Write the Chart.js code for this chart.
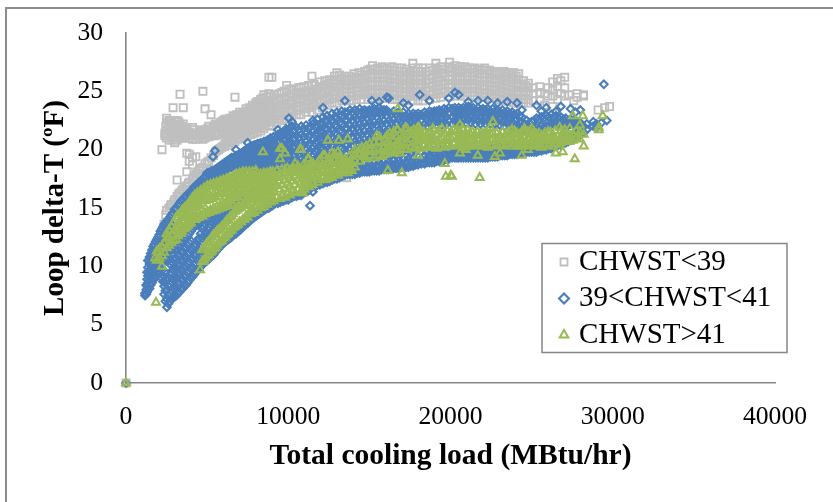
<!DOCTYPE html>
<html><head><meta charset="utf-8">
<script src="https://cdn.jsdelivr.net/npm/chart.js@4"></script>
<style>
html,body{margin:0;padding:0;background:#fff;overflow:hidden}
#wrap{position:absolute;left:0;top:0;width:833px;height:502px}
#frame{position:absolute;left:5px;top:7px;width:828px;height:495px;border-top:2px solid #8c8c8c;border-left:2px solid #8c8c8c;box-sizing:border-box}
canvas{position:absolute;left:0;top:0}
</style></head><body>
<div id="wrap"><div id="frame"></div><canvas id="c" width="833" height="502"></canvas></div>
<script>
const seriesNames = ["CHWST<39", "39<CHWST<41", "CHWST>41"];
const xTickValues = [0, 10000, 20000, 30000, 40000];
const yTickValues = [0, 5, 10, 15, 20, 25, 30];
const xTitle = "Total cooling load (MBtu/hr)";
const yTitle = "Loop delta-T (ºF)";

// Each row: load, then the delta-T values read at that load.
const lowColumns = [
[0,0],[2220,20],[2400,21.2,21.4],[2350,13.6],[2500,14.8,21,21.6,22.3,22.7],[2650,15,20.8,21.5,22.2,22.5],[2710,22.5],[2800,15.3,21,21.6,22.3],[2900,23.6],
[3000,15.7,20.6,21.2,21.9,22.4],[3150,16,17.4,20.8,21.4,22,22.5],[3330,16.3,24.75,21,21.6,22.2],[3530,16.6,23.6,21.1,21.7,22.2],[3750,16.9,18.1,19.7,21.2,21.8],
[3900,17.2,19,19.6,21,21.5],[4100,17.5,18.7,19.3,20.9,21.4,21.9],[4300,17.9,19.4,20.9,21.3],[4500,18.2,21,21.5],[4740,18.5,20.9,21.3,21.7,25],[4870,18.8,21,21.5,23.5],
[5100,19,21.1,21.6,22],[5240,19.3,21.2,21.7,23],[5500,19.8,21.2,21.8,22.2],[5700,20,21.3,22],[5900,20.2,21.5,22.1,22.4],[6100,20.3,21,21.6,22.3,22.6],[6300,20.4,21.1,21.8,22.4],
[6500,20.6,21.3,22,22.5],[6715,20.7,21.4,22.1,22.8,24.5],[6900,20.9,21.6,22.3,22.9],[7100,21,21.7,22.4,23],[7300,21.1,21.8,22.5,23.1],[7500,21.2,21.9,22.6,23.3],[7700,21.3,22,22.7,23.4],
[7900,21.4,22.1,22.8,23.6],[8100,21.5,22.2,22.9,23.7,24.1],[8300,21.6,22.3,23,23.8,24.3],[8500,21.8,22.5,23.2,24,24.7],[8810,22,22.7,23.4,24.1,24.8,26.2],[8990,26.2,22.1,22.8,23.5,24.2],
[9300,22.3,23,23.7,24.4],[9610,22.5,23.2,23.9,24.9,24.4],[9900,22.6,23.3,24,24.6,25.5],[10200,22.8,23.5,24.2,24.8,25.1],[10500,23,23.7,24.4,24.9],[10780,23,23.7,24.4,24.9,25.3],
[11100,23.2,23.9,24.6,25],[11460,23.2,23.9,24.6,25.5,25,26.3],[11800,23.4,24.1,24.8,25.2],[12100,23.6,24.3,25,25.4],[12400,23.8,24.5,25.2,25.6],[12700,24,24.7,25.4,25.9],[13000,24,24.7,25.4,26,26.6],
[13300,24.2,24.9,25.6,26.1],[13600,17.6,24.2,24.9,25.6,26],[13900,24.2,24.9,25.6,26.1],[14200,24.3,25,25.7,26.2],[14500,24.3,25,25.7,26.4],[14900,24.3,25,25.7,26.4,26.8],[15200,24.4,25.1,25.8,26.5,27.2],
[15500,24.4,25.1,25.8,26.5,27],[15800,24.4,25.1,25.8,26.5,27.1],[16100,24.4,25.1,25.8,26.5,27],[16400,24.3,25,25.7,26.4,27.1],[16700,24.3,25,25.7,26.4,27],[17000,24.2,24.9,25.6,26.3,27],
[17300,24.2,24.9,25.6,26.3,26.9],[17680,24.2,24.9,25.6,26.3,27,27.4],[18000,24.2,24.9,25.6,26.3,27],[18300,24.2,24.9,25.6,26.3,27],[18700,24.3,25,25.7,26.4,27],[19100,24.4,25.1,25.8,26.5,27,27.4],
[19400,24.5,25.2,25.9,26.6,27.1],[19950,24.6,25.3,26,26.7,27.1,27.5],[20300,24.6,25.3,26,26.7,27.2],[20600,24.6,25.3,26,26.7,27.1],[20900,24.6,25.3,26,26.6,27.1],[21200,24.6,25.3,26,26.6,27],
[21500,24.6,25.3,26,26.6,27],[21800,24.5,25.2,25.9,26.5,26.9],[22100,24.5,25.2,25.9,26.5,27],[22400,24.4,25.1,25.8,26.5,26.8],[22700,24.4,25.1,25.8,26.4,26.7],[23000,24.3,25,25.7,26.4,26.7],
[23300,24.2,24.9,25.6,26.3,26.7],[23600,24.1,24.8,25.5,26.2,26.6],[23900,24,24.7,25.4,26.1,26.6],[24200,24,24.7,25.4,26,26.5],[24500,24,24.7,25.3,25.9],[24800,24,24.7,25.3,25.7],[25100,24.2,24.8,25.3],
[25500,24.2,24.9,25.4],[25800,23.8,24.8],[26000,24.6,25.3],[26300,23.7,24.6,25.1,25.8],[26600,24.3,25.4,26.1],[27040,26.2,25.3,24.6],[26800,24.8,25.9],[27300,24.7],[27600,24.2],[27800,24.8,24.5],
[28200,24.6,24.7],[29100,23.4],[29500,23.6],[29800,23.7]
];
const lowExtra = [
[2450,14.4,21.3,22],[2750,15.2,21.2,21.9],[2950,15.5,21,21.7],[3250,16.2,21.3,21.9,22.4],[3450,16.5,21,21.5,22],[3650,16.8,21,21.5],[3850,17.1,21.3],[4200,17.7,21.2,21.7],[4400,18,21.2],[4600,18.4,21.2,21.6],[5000,18.9,21.3,21.8],[5400,19.5,21.4,22],[5600,19.9,21.5,22.1],[5800,20.1,21.8,22.3],[6000,20.3,21.3,21.9,22.5],[6200,20.7,21.4,22.1,22.6],[6400,20.7,21.4,22.2,22.7],[6600,20.9,21.7,22.4,22.9],[6800,21.2,21.9,22.6,23],[7000,21.3,22,22.7,23.2],[7200,21.4,22.1,22.8,23.2],[7400,21.5,22.2,22.9,23.5],[7600,21.6,22.3,23,23.6],[7800,21.7,22.4,23.2,23.8],[8000,21.8,22.5,23.3,24],[8200,21.9,22.6,23.4,24.1],[8400,22.1,22.8,23.6,24.4],[8650,22.3,23,23.8,24.5],[8900,22.4,23.1,23.8,24.6],[9150,22.6,23.3,24,24.7],[9450,22.7,23.5,24.2,24.8],[9750,22.9,23.6,24.3,25],[10050,23.2,23.9,24.5,25.2],[10350,23.3,24,24.6,25.2],[10650,23.4,24.1,24.7,25.3],[10950,23.5,24.2,24.8,25.4],[11250,23.6,24.3,25,25.5],[11600,23.8,24.4,25.1,25.6],[11950,24,24.7,25.3,25.8],[12250,24.2,24.9,25.5,25.9],[12550,24.3,25,25.7,26],[12850,24.4,25,25.7,26.3],[13150,24.5,25.2,25.9,26.4],[13450,24.6,25.2,25.9,26.3],[13750,24.6,25.2,25.9,26.3],[14050,24.6,25.3,26,26.5],[14350,24.7,25.3,26,26.6],[14700,24.7,25.4,26.1,26.7],[15050,24.8,25.5,26.2,26.9],[15350,24.8,25.5,26.2,26.9],[15650,24.8,25.5,26.2,26.8],[15950,24.8,25.5,26.2,26.9],[16250,24.7,25.4,26.1,26.8],[16550,24.7,25.4,26.1,26.8],[16850,24.6,25.3,26,26.7],[17150,24.6,25.3,26,26.7],[17500,24.6,25.3,26,26.7],[17850,24.6,25.3,26,26.7],[18150,24.6,25.3,26,26.7],[18500,24.6,25.3,26,26.7],[18900,24.7,25.4,26.1,26.8],[19250,24.8,25.5,26.2,26.9],[19650,24.9,25.6,26.3,26.9],[20100,24.9,25.6,26.3,27],[20450,24.9,25.6,26.3,26.9],[20750,24.9,25.6,26.3,26.9],[21050,24.9,25.6,26.3,26.9],[21350,24.9,25.6,26.3,26.9],[21650,24.9,25.6,26.2,26.8],[21950,24.8,25.5,26.2,26.8],[22250,24.8,25.5,26.2,26.8],[22550,24.7,25.4,26.1,26.6],[22850,24.7,25.4,26.1,26.6],[23150,24.6,25.3,26,26.5],[23450,24.5,25.2,25.9,26.5],[23750,24.4,25.1,25.8,26.4],[24050,24.3,25,25.7,26.3],[24350,24.3,25,25.6],[24650,24.3,25,25.5]
];

const midColumns = [
[0,0],[1170,7.5,7.7],[1250,7.6,8,8.4],[1300,7.8,8.3,8.9,9.5],[1450,8.1,8.8,9.5,10.2,10.8],[1600,8.6,9.3,10,10.7,11.4],[1750,9,9.7,10.4,11.1,11.9],[1900,9.4,10.1,10.8,11.5,12.3],[2050,9.9,10.6,11.3,12,12.7],
[2200,9,10.2,11,12.3,13.2],[2350,7.6,8.3,9.1,10.5,11.3,12.1,13,13.6],[2520,6.5,7.2,8,8.8,10.9,12,13,13.9],[2700,7,7.7,8.5,9.3,10.2,11.3,12.5,13.4,14.2],[2900,7.3,8.1,8.9,9.7,10.6,11.6,12.5,13.5,14.6],
[3100,7.5,8.3,9.1,9.9,10.7,11.5,12.3,15],[3300,7.8,8.6,9.4,10.2,11,11.8,12.6,15.4],[3500,8.1,8.9,9.7,10.5,11.3,12.1,12.9,15.7],[3700,8.4,9.2,10,10.8,11.6,12.4,13.2,16],[3900,8.8,9.6,10.4,11.2,12,12.8,13.6,16.3],
[4100,9.1,9.9,10.7,11.5,13.2,16,16.6],[4300,9.5,10.3,11.1,11.9,13.5,16.3,16.9],[4500,9.8,10.6,11.4,12.4,13.8,16.6,17.2],[4700,10.1,11,12.4,13.2,14,16.8,17.4],[4900,10.4,11.3,12.8,13.6,17,17.7],
[5000,18],[5100,10.6,12.6,13.4,14.2,17.2,18],[5300,10.9,13,13.8,14.4,17.4,18.2],[5360,19.4],[5480,19.9],[5500,11.2,13.2,14,14.5,17.7,18.3],[5700,11.5,13.6,14.4,17.9,18.5],[5900,11.8,13.8,14.5,18.1,18.7],[6100,12.1,14.2,14.8,18.2,18.9],
[6300,12.3,14.5,15,18.4,19.1],[6500,12.5,14.8,18.5,19.3],[6780,12.8,15.1,18.7,19.4,20],[6900,13,15.3,18.8,19.5],[7100,13.2,15.6,18.3,19,19.7],[7300,13.5,15.8,18.4,19.2,19.9],[7500,13.7,18.6,19.4,20.1,20.6],[7700,14,18.8,19.6,20.3],
[7900,14.2,19,19.7,20.4],[8100,14.4,18.4,19.1,19.8,20.5],[8300,14.6,18.5,19.2,19.9,20.6],[8500,14.8,18.6,19.3,20,20.7],[8700,15,18.7,19.4,20.1,20.8],[8900,15.1,18.9,19.6,20.3,21],[9100,15.3,19,19.7,20.4,21.1],
[9360,15.4,18.5,19.2,19.9,20.6,21.3,21.7],[9500,15.5,18.6,19.3,20,20.7,21.4],[9700,15.6,18.7,19.4,20.1,20.8,21.5],[9860,15.7,18.8,19.5,20.2,20.9,21.6,21.8],[10040,15.8,19,19.7,20.4,21.1,21.8,22.7],[10230,15.9,18.5,19.2,19.9,20.6,21.3,22,22.4],
[10500,16,18.4,19.1,19.8,20.5,21.2,21.9],[10800,16.1,18.5,19.2,19.9,20.6,21.3,22],[11100,16.4,18.6,19.3,20,20.7,21.4,22.1],[11340,15.2,16.6,18.5,19.2,19.9,20.6,21.3,22],[11520,16.4,16.9,18.7,19.4,20.1,20.8,21.5,22.2,22.5],
[11800,17,18.6,19.3,20,20.7,21.4,22.1,22.6],[12140,17.1,18.7,19.4,20.1,20.8,21.5,22.2,22.8,23.6],[12400,17.2,18.9,19.6,20.3,21,21.7,22.4,22.9],[12700,17.4,19,19.7,20.4,21.1,21.8,22.5,23.1],[13000,17.5,19.2,19.9,20.6,21.3,22,22.7,23.2],
[13300,17.7,19.4,20.1,20.8,21.5,22.2,22.9,23.3],[13490,17.8,19,19.7,20.4,21.1,21.8,22.5,23.2,24.2],[13800,17.9,18.6,19.3,20,20.7,21.4,22.1,22.8,23.4],[14100,17.9,18.6,19.3,20,20.7,21.4,22.1,22.8,23.4],[14400,18,18.7,19.4,20.1,20.8,21.5,22.2,22.9,23.5],
[14700,18.1,18.8,19.5,20.2,20.9,21.6,22.3,23,23.4],[15000,18.1,18.8,19.5,20.2,20.9,21.6,22.3,23,23.4],[15150,24.2],[15300,18.2,18.9,19.6,20.3,21,21.7,22.4,23.1,23.5],[15600,18.2,18.9,19.6,20.3,21,21.7,22.4,23.1,23.6,24.1],[15900,18.3,19,19.7,20.4,21.1,21.8,22.5,23.2,23.4],
[16080,24.5],[16200,18.3,19,19.7,20.4,21.1,21.8,22.5,23.2,24.4],[16500,18.4,19.1,19.8,20.5,21.2,21.9,22.6,23.3],[16800,18.4,19.1,19.8,20.5,21.2,21.9,22.6,23.2],[17100,18.5,19.2,19.9,20.6,21.3,22,22.7,23.2,24],[17400,18.5,19.2,19.9,20.6,21.3,22,22.6,23.1,23.8],
[17700,18.6,19.3,20,20.7,21.4,22.1,22.7,23.1],[18000,18.7,19.4,20.1,20.8,21.5,22.2,22.8,23.1],[18100,24.7],[18400,18.8,19.5,22.2,22.8,23.2],[18700,18.9,19.5,20.2,21,22.3,22.9,23.3,24.2],[19000,18.9,19.6,22.4,23,23.3],[19300,19,19.6,22.4,23,23.4],
[19600,19.1,19.7,22.4,23,23.5],[19900,19.2,19.8,22.5,23.1,23.6,24.4],[20270,19.3,19.9,22.5,23.1,23.6,24.9],[20500,24.7,19.3,19.9,22.5,23.1,23.6],[20800,19.3,19.9,22.6,23.2,23.6],[21100,19.3,19.9,22.6,23.2,23.7,24.1],[21400,19.3,19.9,22.6,23.2,23.6],
[21700,19.3,19.9,22.5,23.1,23.6,24.2],[22000,19.3,19.9,22.5,23.1,23.5],[22300,19.3,19.9,22.5,23.1,23.5,24.2],[22600,19.4,20,22.5,23.1,23.5],[22900,19.4,20,22.4,23,23.4,24],[23200,19.5,20,22.4,23,23.4],[23500,19.5,20.1,22.3,22.9,23.3,24.1],
[23800,19.6,20.1,22.3,22.9,23.2],[24100,19.6,20.2,22,22.6,23.1,24],[24400,19.7,20.2,21.8,22.4,22.8,23.4],[24700,19.8,20.3,21.8,22.5],[25000,19.8,20.3,21.9,22.4],[25300,19.8,20.4,21.9,22.7,23.8],[25600,19.9,20.4,22,22.8,23.3],[25900,20,20.5,22,22.9,23.6],
[26200,20.1,20.5,22.2,23],[26500,20.3,20.6,22.3,22.9,23.3],[26800,20.4,20.8,22.4,22.8,23.7],[27100,20.6,21,22.2,22.7],[27400,20.8,21.2,22.2,22.6,23.5],[27700,21,21.4,22.3,22.4,23.2],[28000,21.3,21.7,22.3,23.4],[28400,21.7,22.2],[28800,22,22.4],[29000,21.9,22.2],[29300,22.3],[29450,25.6],[29630,22.5]
];
const midExtra = [
[1350,8,8.6,9.2,9.9,10.5],[1520,8.4,9.1,9.8,10.5,11.1],[1680,8.8,9.5,10.2,10.9,11.7],[1820,9.2,9.9,10.6,11.3,12.1],[1980,9.6,10.3,11,11.7,12.5],[2120,10,10.7,11.5,12.1,13],[2280,8.7,9.7,10.9,11.7,12.7,13.4],[2430,7,7.9,8.6,9.5,11.1,11.8,12.6,13.7],[2610,6.8,7.5,8.3,9,10.5,11.7,12.8,14],[2800,7.2,7.9,8.7,9.5,10.4,11.4,12.2,13.1,14.4],[3000,7.4,8.2,9,9.8,10.6,11.4,12.2,14.9],[3200,7.7,8.5,9.3,10.1,10.9,11.7,12.5,15.2],[3400,8,8.8,9.6,10.4,11.2,12,12.8,15.6],[3600,8.3,9.1,9.9,10.7,11.5,12.3,13.1,15.9],[3800,8.6,9.4,10.2,11,11.8,12.6,13.4,16.2],[4000,9,9.8,10.6,11.4,12.2,13,15.8,16.4],[4200,9.3,10.1,10.9,11.7,13.4,16.2,16.8],[4400,9.7,10.5,11.3,12.2,13.6,16.5,17],[4600,10,10.8,11.6,12.8,16.7,17.3],[4800,10.3,11.2,12.6,13.4,16.9,17.6],[5000,10.5,12.4,13.2,14,17.1,17.9],[5200,10.8,12.8,13.6,14.3,17.3,18.1],[5400,11,13.1,13.9,14.5,17.6,18.2],[5600,11.4,13.4,14.2,17.8,18.4],[5800,11.7,13.7,14.4,18,18.6],[6000,12,14,14.6,18.1,18.8],[6200,12.2,14.4,14.9,18.3,19],[6400,12.4,14.6,18.5,19.2],[6600,12.7,15,18.6,19.3],[6800,12.9,15.2,18.8,19.5],[7000,13.1,15.5,18.2,18.9,19.6],[7200,13.4,15.7,18.4,19.1,19.8],[7400,13.6,18.5,19.3,20],[7600,13.9,18.7,19.5,20.2],[7800,14.1,18.9,19.6,20.3],[8000,14.3,18.3,19,19.7,20.4],[8200,14.5,18.8,19.5,20.5],
[8400,14.7,18.3,18.9,19.6,20.3],[8600,14.9,18.4,19,19.7,20.4],[8800,15,18.5,19.2,19.9,20.6],[9000,15.2,18.6,19.3,20,20.7],[9200,15.4,18.8,19.5,20.2,20.9],[9600,15.6,18.3,19,19.7,20.4,21.1],[10000,15.7,18.5,19.2,19.9,20.6,21.3],[10350,16,18.8,19.5,20.2,20.9,21.6],[10650,16.1,18.9,19.6,20.3,21,21.7],[10950,16.3,19,19.7,20.4,21.1,21.8],[11250,16.5,19,19.7,20.4,21.1,21.8],[11650,16.8,19.2,19.9,20.6,21.3,22],[11950,17,18.7,19.4,20.1,20.8,21.5,22.2],[12250,17.2,19,19.7,20.4,21.1,21.8,22.5],[12550,17.3,19.2,19.9,20.6,21.3,22,22.7],[12850,17.5,19.3,20,20.7,21.4,22.1,22.8],[13150,17.6,18.8,19.5,20.2,20.9,21.6,22.3,23],[13650,17.9,18.3,19,19.7,20.4,21.1,21.8,22.5,23.2],[13950,17.9,18.3,19,19.7,20.4,21.1,21.8,22.5,23.2],[14250,18,18.4,19.1,19.8,20.5,21.2,21.9,22.6,23.3],[14550,18.1,18.5,19.2,19.9,20.6,21.3,22,22.7,23.3],[14850,18.1,18.5,19.2,19.9,20.6,21.3,22,22.7,23.3],[15150,18.2,18.6,19.3,20,20.7,21.4,22.1,22.8,23.4],[15450,18.2,18.6,19.3,20,20.7,21.4,22.1,22.8,23.4],[15750,18.3,18.7,19.4,20.1,20.8,21.5,22.2,22.9,23.4],[16050,18.3,18.7,19.4,20.1,20.8,21.5,22.2,22.9,23.4],[16350,18.4,18.8,19.5,20.2,20.9,21.6,22.3,23],[16650,18.4,18.8,19.5,20.2,20.9,21.6,22.3,23],[16950,18.5,18.9,19.6,20.3,21,21.7,22.4,23],[17250,18.5,18.9,19.6,20.3,21,21.7,22.4,22.9],[17550,18.6,19,19.7,20.4,21.1,21.8,22.4,22.9],[17850,18.7,19.1,19.8,20.5,21.7,22.5,23],[18200,18.8,19.2,19.8,21.9,22.5,23],[18550,18.9,19.2,19.8,22,22.6,23.1],[18850,18.9,19.3,19.9,22.1,22.7,23.2],[19150,19,19.4,20,22.1,22.7,23.3],[19450,19.1,19.4,20,22.1,22.7,23.3],[19750,19.2,19.5,20,22.2,22.8,23.4],[20100,19.3,19.6,20.1,22.2,22.8,23.5],[20400,19.3,19.6,20.1,22.2,22.8,23.4],[20650,19.3,19.6,20.1,22.3,22.9,23.5],[20950,19.3,19.6,20.1,22.3,22.9,23.5],[21250,19.3,19.6,20.1,22.3,22.9,23.5],[21550,19.3,19.6,20.1,22.2,22.8,23.4],[21850,19.3,19.6,20.1,22.2,22.8,23.4],[22150,19.3,19.6,20.1,22.2,22.8,23.4],[22450,19.4,19.7,20.2,22.2,22.8,23.3],[22750,19.4,19.7,20.2,22.2,22.8,23.3],[23050,19.5,19.8,20.2,22.1,22.7,23.2],[23350,19.5,19.8,20.2,22,22.6,23.2],[23650,19.6,19.9,20.3,22,22.6,23.1],[23950,19.6,19.9,20.3,21.9,22.5,23],[24250,19.7,20,20.3,21.9,22.3,22.9],[24550,19.8,20,21.7,22.2],[24850,19.8,20.1,21.8,22.3],[25150,19.8,20.1,21.8,22.5],[25450,19.9,20.2,21.8,22.6],[25750,20,20.3,21.9,22.7],[26050,20.1,20.4,22.1,22.8],[26350,20.2,20.5,22.2,22.8],[26650,20.4,20.7,22.2,22.7],[26950,20.5,20.9,22.1,22.6],[27250,20.7,21.1,22.1,22.5],[27550,20.9,21.3,22.2,22.5],[27850,21.1,21.5,22.2,22.4],[28200,21.5,22]
];

const highColumns = [
[0,0],[1790,10.7],[1850,6.9],[1900,10.5,11.3],[2220,10,10.9,11.7],[2500,11.6,12.4,12.8],[2800,12,12.7,13.4],[3100,12.3,13.2,14.2],[3250,12.9,13.8],[3400,12.8,13.6,14.6],[3550,13.2,14.2,14.9],[3700,13.4,14.4,15.1],
[3850,13.6,14.5,15.3],[4000,13.7,14.6,15.5],[4150,14,14.8,15.8],[4300,14.1,15,16],[4500,14.2,15.2,16.2],[4560,9.7],[4700,10.4,11.4,14.3,15.4,16.4],[4900,10.7,11.8,14.5,15.6,16.6],[5100,11,12.1,14.6,15.7,16.8],
[5300,11.3,12.5,14.7,15.8,16.9],[5500,11.6,12.8,14.8,15.9,17],[5700,12,13.1,14.9,16,17],[5900,12.2,13.4,15,16.2,17.2],[6100,12.5,13.7,15.1,16.3,17.3],[6300,12.8,14,15.2,16.4,17.5],[6500,13.1,14.3,15.4,16.6,17.5],
[6700,13.4,14.7,15.6,16.7,17.6],[6900,13.6,14.9,15.9,16.9,17.8],[7100,13.8,15,16,17,17.9],[7300,14,15.2,16.2,17.1,17.9],[7500,14.2,15.3,16.3,17.2,17.9],[7700,14.5,15.5,16.4,17.3,17.9],[7900,14.6,15.7,16.5,17.3,17.8],
[8100,14.8,15.8,16.6,17.4,18],[8300,15,15.9,16.7,17.4,17.9],[8500,15.1,16,16.8,17.5,18],[8700,15.3,16.1,16.9,17.6,18],[8900,15.5,16.3,17,17.7,18.1],[9100,15.6,16.4,17.1,17.7,18],[9490,15.8,16.6,17.3,17.9,19.2,20.1],[9800,15.9,16.7,17.4,18,18.3,19.7],
[10100,16.1,16.9,17.6,18.2],[10410,16.3,17,17.7,18.3,18.8],[10780,16.4,17.2,17.8,18.3,20],[10900,16.3],[11000,16.6,17.3,17.9,18.4],[11270,16.8,17.5,18.1,18.6,19.2],[11500,17,17.6,18.2,18.6],[11800,17.2,17.8,18.3,18.8],[12260,17.4,18,18.5,19.5],
[12440,17.5,18.1,18.7,20.8],[12690,17.6,18.2,18.8,19.7],[13060,17.8,18.4,19,19.8],[13120,20.8],[13350,18,18.5,19],[13670,18,18.5,20.9],[13920,18.2,18.8],[14290,19.7],[14540,20.2],[14720,19.4],[15030,20],[15460,21.2],[15770,19.4],[15830,20.2],[16140,18.2],
[16260,19.8,20.4,21.4],[16750,19.9,20.7,21.7,23.5],[16880,19.7,20.3],[17000,18,21],[17190,20.4,21.1,21.8],[17570,20.2,20.9,21.5],[17990,19.5,20.5,21.2,21.9],[18200,20.1,20.8,21.4],[18540,20.2,20.8,21.3],[18910,20.3,21,21.8],[19150,20.1,20.7,21.3],
[19470,20.3,21,21.8],[19650,18.8,20.2,20.8,21.4],[19710,17.7],[20020,17.8,20.3,21,21.5],[20080,17.7],[20390,20.3,20.9,21.7],[20580,19.7,20.4,21,21.6,22.1],[20940,20,20.4,20.9,21.4],[21200,20.3,20.8,21.4],[21500,20.3,20.8,21.3],[21680,19.5],[21800,17.6,20.4,20.9,21.3],
[22100,20.3,20.9,21.4],[22300,20.2,20.8,21.3],[22610,20.4,20.9,21.4,22.4],[22730,19.4],[23040,19.7,20.4,21,21.2],[23400,20.3,20.8,21.3],[23780,20.3,20.8,21.3,21.7],[24100,20.3,20.9,21.4],[24390,19.5,20.3,20.8,21.5],[24760,20,20.4,20.9,21.5],
[25010,20.3,20.8,21.3,21.8],[25300,20.3,20.8,21.3],[25600,20.2,20.7,21.2],[26000,20.3,20.8,21.5],[26300,20.3,20.8,21.3],[26490,19.7],[26730,20.4,20.9,21.9],[26920,19.8,20.7,21.2],[27200,20.7,21.2],[27540,20.8,21.3,22.9],[27660,19.2],[27970,20.9,21.5,22.1],[28150,22.9],[28210,20.3,21.3],[29140,21.7,21.9],[29380,22.9]
];
const highExtra = [
[2050,10.7,11.5],[2350,11.2,12],[2650,11.8,12.5,13.1],[2950,12.2,13,13.8],[3200,12.6,13.5,14.4],[3450,13,13.9,14.8],[3620,13.3,14.2,15],[3780,13.5,14.3,15.2],[3950,13.8,14.8,15.6],[4100,14,15,15.9],[4250,14,15.2,16.1],[4400,14.2,15.4,16.3],[4600,14.4,15.6,16.5],[4800,10.5,11.6,14.6,15.8,16.7],[5000,10.9,12,14.7,15.9,16.9],[5200,11.2,12.3,14.8,16,17],[5400,11.5,12.7,15,16.2,17.1],[5600,11.8,13,15.1,16.3,17.2],[5800,12.1,13.2,15.2,16.4,17.3],[6000,12.4,13.5,15.4,16.6,17.4],[6200,12.7,13.9,15.6,16.7,17.5],[6400,13,14.2,15.8,16.9,17.6],[6600,13.3,14.5,16,17,17.7],[6800,13.5,14.8,16.2,17.2,17.9],[7000,13.8,15.1,16.4,17.3,18],[7200,14,15.3,16.5,17.4,18.1],[7400,14.3,15.5,16.6,17.5,18.1],[7600,14.6,15.7,16.7,17.6,18.1],[7800,14.8,15.9,16.8,17.6,18.1],[8000,15,16,16.9,17.7,18.2],[8200,15.1,16.1,17,17.8],[8440,15.3,16.3,17.1,17.8,19.8],[8650,15.5,16.4,17.2,17.9],[8850,15.6,16.6,17.3,18],[9050,15.8,16.7,17.4,18.1],[9300,15.9,16.9,17.6,18.2],[9610,16,17,17.7,18.3,20.1],[9950,16.2,17.1,17.8,18.4],[10290,16.4,17.3,18,18.4],[10600,16.6,17.5,18.1,18.6],[10720,20],[10950,16.8,17.6,18.2,18.7],[11210,17,17.7,18.3,19.2],[11520,17.2,17.9,18.2,18.8],[11900,17.4,18,18.6,19],[12140,17.6,18.2,18.7,19.5],[12500,17.7,18.3,18.9,19.2],[12850,17.9,18.5,19,19.6],[13180,18.1,18.6,19.2,19.5],[13500,18.2,18.7,19.2],[13750,18.3,18.9,19.4],[13920,18.8],[14100,18.5,19,19.6,20],[14410,19,19.6,20],[14800,19.2,19.8,20.3],[15030,19.5,20.5],[15300,19.3,19.9,20.6],[15600,19.5,20.1,20.7,21.1],[15950,19.6,20.3,20.9],[16100,19.8,20.6,21.2],[16500,19.7,20.2,20.8,21.5],[16690,20,20.5,21.1,21.7],[17310,20,20.6,21.3,21.8],[17750,20.1,20.7,21.3,21.7],[18050,20.3,20.9,21.5,21.9],[18350,20.3,20.9,21.5],[18700,20.2,20.8,21.5],[19000,20.3,20.9,21.6],[19300,20.3,20.9,21.6],[19800,20.3,20.9,21.6],[20200,20.5,21.1,21.7],[20750,20.2,20.7,21.2,21.8],[21050,20.3,20.7,21.2,21.7],[21350,20.4,20.9,21.5],[21650,20.4,20.9,21.5],[21950,20.3,20.8,21.4],[22200,20.4,21,21.5],[22450,20.4,20.9,21.4,21.9],[22850,20.3,20.9,21.4],[23200,20.4,20.9,21.5],[23550,20.5,21,21.5],[23950,20.5,21,21.6],[24250,20.3,20.8,21.3],[24550,20.5,21,21.5,21.8],[24900,20.5,21,21.6],[25150,20.4,20.9,21.5],[25450,20.4,20.9,21.4],[25800,20.4,20.9,21.4],[26150,20.5,21,21.5],[26450,20.5,21,21.6],[26800,20.6,21.1,21.6],[27050,20.8,21.3,21.7],[27350,20.7,21.2,21.8],[27750,21,21.6]
];

const toPoints = cols => cols.flatMap(([x, ...ys]) => ys.map(y => ({x, y})));
const commonSet = {showLine:false, clip:false, pointBackgroundColor:'transparent', backgroundColor:'transparent'};

const legendBox = {
  id:'legendBox',
  afterLayout(chart){
    const l = chart.legend;
    l.left = 556; l.top = 240; l.right = 787; l.bottom = 400; l.width = 231; l.height = 160;
  },
  afterDraw(chart){
    const c = chart.ctx; c.save(); c.strokeStyle = '#868686'; c.lineWidth = 1.5;
    c.strokeRect(542, 243.5, 245, 109); c.restore();
  }
};

new Chart(document.getElementById('c'), {
  type:'scatter',
  plugins:[legendBox],
  data:{datasets:[
    {...commonSet, order:3, label:seriesNames[0], data:toPoints(lowColumns.concat(lowExtra)), pointStyle:'rect', pointRadius:5.1, pointBorderWidth:1.8, pointBorderColor:'#bfbfbf', borderColor:'#bfbfbf'},
    {...commonSet, order:2, label:seriesNames[1], data:toPoints(midColumns.concat(midExtra)), pointStyle:'rectRot', pointRadius:3.8, pointBorderWidth:2.1, pointBorderColor:'#4a7ebb', borderColor:'#4a7ebb'},
    {...commonSet, order:1, label:seriesNames[2], data:toPoints(highColumns.concat(highExtra)), pointStyle:'triangle', pointRadius:4.6, pointBorderWidth:2, pointBorderColor:'#98b954', borderColor:'#98b954'}
  ]},
  options:{
    responsive:false, animation:false, devicePixelRatio:1,
    layout:{padding:{left:0,top:33,right:58,bottom:28}},
    plugins:{
      tooltip:{enabled:false},
      legend:{position:'chartArea',align:'start',labels:{sort:(a,b)=>a.datasetIndex-b.datasetIndex,usePointStyle:true,boxWidth:1,boxHeight:7,padding:7.5,color:'#000',font:{family:'"Liberation Serif"',size:29}}}
    },
    scales:{
      x:{type:'linear',min:0,max:40000,afterBuildTicks(s){s.ticks=xTickValues.map(value=>({value}));},afterFit(s){s.height=91;},
        grid:{display:false},border:{display:true,color:'#868686',width:1.6},
        ticks:{padding:11,color:'#000',maxRotation:0,callback:v=>String(v),font:{family:'"Liberation Serif"',size:25.6}},
        title:{display:true,text:xTitle,color:'#000',padding:{top:0,bottom:0},font:{family:'"Liberation Serif"',size:29.5,weight:'bold'}}},
      y:{type:'linear',min:0,max:30,afterBuildTicks(s){s.ticks=yTickValues.map(value=>({value}));},afterFit(s){s.width=126;},
        grid:{display:false},border:{display:true,color:'#868686',width:1.6},
        ticks:{padding:15,color:'#000',callback:v=>String(v),font:{family:'"Liberation Serif"',size:25.6}},
        title:{display:true,text:yTitle,color:'#000',padding:{top:38,bottom:0},font:{family:'"Liberation Serif"',size:29,weight:'bold'}}}
    }
  }
});
</script>
</body></html>
